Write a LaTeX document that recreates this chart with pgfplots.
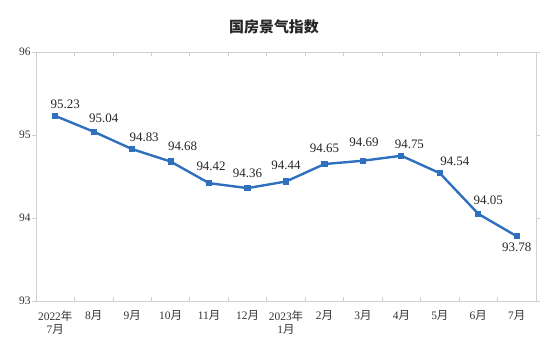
\documentclass[border=0pt]{standalone}
\usepackage{pgfplots}
\pgfplotsset{compat=1.18}
\usepackage{fontspec}
\setmainfont{Liberation Serif}
\newfontfamily\cjk{Noto Sans CJK SC}
\definecolor{lineblue}{HTML}{2E6FBE}
\definecolor{axgray}{HTML}{D0D0D0}
\begin{document}
\begin{tikzpicture}
\useasboundingbox (0,0) rectangle (550bp,356bp);
\begin{axis}[
  at={(36bp,55bp)}, anchor=south west,
  scale only axis, width=500bp, height=249bp,
  xmin=-0.5, xmax=12.5, ymin=93, ymax=96,
  xtick={0,...,12},
  xticklabels={{2022{\cjk 年}\\7{\cjk 月}},8{\cjk 月},9{\cjk 月},10{\cjk 月},11{\cjk 月},12{\cjk 月},{2023{\cjk 年}\\1{\cjk 月}},2{\cjk 月},3{\cjk 月},4{\cjk 月},5{\cjk 月},6{\cjk 月},7{\cjk 月}},
  minor xtick={0.5,1.5,...,11.5},
  ytick={93,94,95,96},
  major tick length=0pt,
  extra y ticks={93,94,95,96}, extra y tick labels={},
  extra y tick style={major tick length=4bp, tick align=outside},
  minor tick length=4bp,
  xtick style={draw=axgray},
  ytick style={draw=axgray},
  minor tick style={draw=axgray, line width=0.8pt},
  tick align=inside,
  axis line style={draw=axgray, line width=0.8pt},
  xticklabel style={align=center, font=\fontsize{11.5}{13}\selectfont, text=black!80, yshift=-6bp},
  yticklabel style={font=\fontsize{11.5}{12}\selectfont, text=black!80, xshift=-2bp},
  /pgf/number format/assume math mode=true,
  clip=false,
  title={\cjk\bfseries 国房景气指数},
  title style={font=\fontsize{15}{17}\selectfont, text=black!85, at={(0.476,1)}, yshift=8bp},
]
\addplot[lineblue, line width=2.4pt, mark=square*, mark size=1.9pt, mark options={lineblue},
  nodes near coords, point meta=explicit symbolic,
  visualization depends on={\thisrow{dx} \as \dx},
  visualization depends on={\thisrow{dy} \as \dy},
  every node near coord/.append style={anchor=center, xshift=\dx bp, yshift=\dy bp, font=\fontsize{13}{14}\selectfont, text=black!85},
] table[x=x, y=y, meta=lab] {
x y dx dy lab
0 95.23 10 12 95.23
1 95.04 10 13 95.04
2 94.83 12 12 94.83
3 94.68 12 15.5 94.68
4 94.42 2 16.5 94.42
5 94.36 0 15 94.36
6 94.44 0 16.5 94.44
7 94.65 0 16 94.65
8 94.69 1 18 94.69
9 94.75 8 11.5 94.75
10 94.54 15 12 94.54
11 94.05 10 14 94.05
12 93.78 0 -11 93.78
};
\end{axis}
\end{tikzpicture}
\end{document}
